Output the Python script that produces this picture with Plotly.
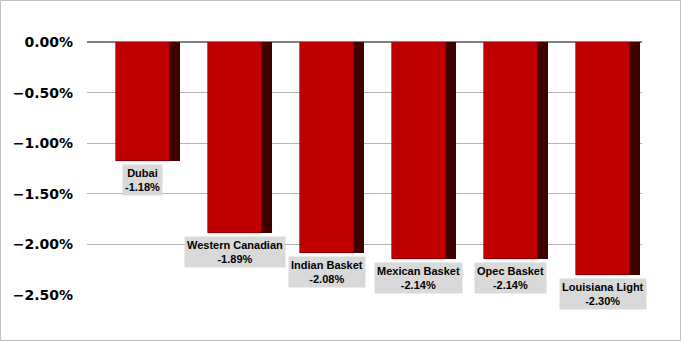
import plotly.graph_objects as go

categories = ["Dubai", "Western Canadian", "Indian Basket", "Mexican Basket", "Opec Basket", "Louisiana Light"]
values = [-1.18, -1.89, -2.08, -2.14, -2.14, -2.30]  # percent
tick_vals = [0.0, -0.5, -1.0, -1.5, -2.0, -2.5]

y = [v / 100 for v in values]
ticks = [t / 100 for t in tick_vals]

fig = go.Figure()
# dark side (3D depth)
fig.add_trace(go.Bar(x=categories, y=y, width=0.69, offset=-0.345,
                     marker=dict(color="#3f0000", line=dict(width=0)),
                     hoverinfo="skip", showlegend=False))
# front face
fig.add_trace(go.Bar(x=categories, y=y, width=0.585, offset=-0.345,
                     marker=dict(color="#c00000", line=dict(color="#7a0000", width=0.6)),
                     showlegend=False))

for c, v, yy in zip(categories, values, y):
    fig.add_annotation(x=c, y=yy, xref="x", yref="y",
                       text=f"<b>{c}<br>{v:.2f}%</b>", showarrow=False,
                       yanchor="top", xanchor="center", xshift=-5, yshift=-3,
                       bgcolor="#d9d9d9", borderpad=2,
                       font=dict(family="Liberation Sans, Arial", size=11, color="#000000"))

W, H = 681, 341
ml, mr, mt, mb = 87, 39, 42, 46
pw, ph = W - ml - mr, H - mt - mb
fig.add_shape(type="rect", xref="paper", yref="paper",
              x0=-(ml - 0.5) / pw, x1=(W - 0.5 - ml) / pw,
              y0=-(mb - 0.5) / ph, y1=(H - 0.5 - mb) / ph,
              line=dict(color="#bfbfbf", width=1), fillcolor="rgba(0,0,0,0)", layer="below")

fig.update_layout(
    width=W, height=H, margin=dict(l=ml, r=mr, t=mt, b=mb),
    paper_bgcolor="white", plot_bgcolor="white",
    barmode="overlay", bargap=0,
    xaxis=dict(showticklabels=False, showgrid=False, zeroline=False, showline=False,
               range=[-0.663, 5.37]),
    yaxis=dict(range=[-0.025, 0], tickvals=ticks, tickformat=".2%",
               showgrid=True, gridcolor="#b3b3b3", gridwidth=1,
               zeroline=True, zerolinecolor="#808080", zerolinewidth=1.5,
               showline=False, ticklabelstandoff=13,
               tickfont=dict(family="DejaVu Sans", size=14, color="#000000", weight="bold")),
    font=dict(family="DejaVu Sans"),
)

fig.write_html("out.html")
